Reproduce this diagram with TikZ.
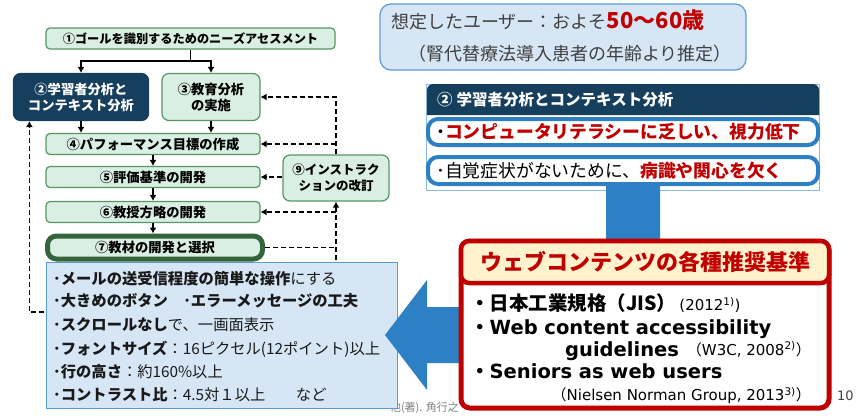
\documentclass[tikz,border=0pt]{standalone}
\usepackage{fontspec}
\setmainfont{Noto Sans CJK JP}
\newfontfamily\dv{DejaVu Sans}
\usetikzlibrary{arrows.meta}
\definecolor{gfill}{RGB}{218,239,228}
\definecolor{gline}{RGB}{84,150,100}
\definecolor{gdark}{RGB}{52,100,60}
\definecolor{navy}{RGB}{22,63,94}
\definecolor{lbfill}{RGB}{214,230,245}
\definecolor{lbline}{RGB}{91,155,213}
\definecolor{abl}{RGB}{46,128,196}
\definecolor{dred}{RGB}{192,0,0}
\definecolor{cream}{RGB}{255,242,204}
\definecolor{gtext}{RGB}{64,64,64}
\definecolor{ftext}{RGB}{128,128,128}
\newcommand\fs[2]{\fontsize{#1}{#2}\selectfont}
\tikzset{
  gbox/.style={draw=gline, fill=gfill, line width=1.2, rounded corners=4, inner sep=0, align=center, font=\bfseries\fs{13.3}{16}},
  arr/.style={line width=1.6, -{Latex[length=6,width=7]}},
  dsh/.style={line width=1.5, dash pattern=on 5 off 3},
  dsharr/.style={dsh, -{Latex[length=6,width=7]}},
  txt/.style={inner sep=0, anchor=base west},
  txte/.style={inner sep=0, anchor=base east},
}
\begin{document}
\begin{tikzpicture}[x=1pt,y=-1pt]
\useasboundingbox (0,0) rectangle (867,415);
% ---------- flowchart ----------
\node[gbox, minimum width=289, minimum height=21, font=\bfseries\fs{12.2}{14}] (n1) at (190.5,38.5) {①ゴールを識別するためのニーズアセスメント};
\node[gbox, fill=navy, draw=navy, text=white, minimum width=135, minimum height=47, rounded corners=7] (n2) at (81,97) {②学習者分析と\\コンテキスト分析};
\node[gbox, minimum width=98, minimum height=47, rounded corners=7] (n3) at (211,97) {③教育分析\\の実施};
\node[gbox, minimum width=214, minimum height=21] (n4) at (153,144) {④パフォーマンス目標の作成};
\node[gbox, minimum width=214, minimum height=21] (n5) at (153,177) {⑤評価基準の開発};
\node[gbox, minimum width=214, minimum height=21] (n6) at (153,212) {⑥教授方略の開発};
\node[gbox, draw=gdark, line width=5, rounded corners=9, minimum width=215, minimum height=23] (n7) at (155,247.5) {⑦教材の開発と選択};
\node[gbox, minimum width=106, minimum height=46, rounded corners=7, font=\bfseries\fs{12.5}{16.5}] (n9) at (336,178) {⑨インストラク\\ションの改訂};

\coordinate (br) at (190.5,61);
\draw[line width=1.6] (n1.south) -- (br);
\draw[arr] (br) -| (n2.north);
\draw[arr] (br) -| (n3.north);
\draw[arr] (n2.south) -- (n2.south |- n4.north);
\draw[arr] (n3.south) -- (n3.south |- n4.north);
\draw[arr] (n4.south) -- (n5.north);
\draw[arr] (n5.south) -- (n6.north);
\draw[arr] (n6.south) -- (n6.south |- n7.north);

\draw[dsharr] (n9.north) |- (n3.east);
\draw[dsharr] (n9.north |- n4.east) -- (n4.east);
\draw[dsharr] (n9.west |- n5.east) -- (n5.east);
\coordinate (rbot) at (336,300);
\draw[dsharr] (rbot) -- (n9.south);
\draw[dsharr] (n9.south |- n6.east) -- (n6.east);
\draw[dsh] (n7.east) -- (n9.south |- n7.east);
\coordinate (lbot) at (60,312);
\draw[dsharr] (lbot) -| ([xshift=16.5]n2.south west);

% footnote fragment
\node[txte, text=ftext, font=\fs{11}{12}] (fn) at (459,411) {他(著). 角行之};

% ---------- blue text box ----------
\node[draw=lbline, fill=lbfill, line width=1, minimum width=351, minimum height=146, inner sep=0] (bb) at (221.5,335.5) {};
\begin{scope}[every node/.append style={txt, font=\fs{15.3}{18}, text=black!90}]
\node (l1) at (53,284.6) {{\bfseries ･メールの送受信程度の簡単な操作}にする};
\node (l2) at (53,306.6) {\bfseries ･大きめのボタン　･エラーメッセージの工夫};
\node (l3) at (53,330.6) {{\bfseries ･スクロールなし}で、一画面表示};
\node (l4) at (53,354) {{\bfseries ･フォントサイズ}：16ピクセル(12ポイント)以上};
\node (l5) at (53,377) {{\bfseries ･行の高さ}：約160\%以上};
\node (l6) at (53,400.6) {{\bfseries ･コントラスト比}：4.5対１以上　　など};
\end{scope}

% ---------- top right box ----------
\node[draw=lbline, fill=lbfill, line width=1.2, rounded corners=11, minimum width=366, minimum height=66, inner sep=0] (tb) at (563,37) {};
\node[txt, text=gtext, font=\fs{18}{20}] (t1) at (391,28) {想定したユーザー：およそ{\bfseries\color{dred}\fs{22}{24}50〜60歳}};
\node[txt, text=gtext, font=\fs{18}{20}] (t2) at (408,60) {（腎代替療法導入患者の年齢より推定）};

% ---------- learner analysis panel ----------
\draw[lbline!70, line width=0.8] (426.5,84) rectangle (819.5,190);
\fill[abl] (606,180) -- (660,180) -- (660,363) -- (427,363) -- (427,390) -- (385,335) -- (427,280) -- (427,307) -- (606,307) -- cycle;
\fill[navy] (427,115) [rounded corners=6] -- (427,84) -- (819,84) [sharp corners] -- (819,115) -- cycle;
\node[txt, text=white, font=\bfseries\fs{15.5}{18}] (hd) at (437,105) {②\hspace{4pt}学習者分析とコンテキスト分析};
\node[draw=abl, fill=white, line width=4, rounded corners=10, minimum width=390, minimum height=26, inner sep=0] (p1) at (623,132) {};
\node[txt, font=\bfseries\fs{17.8}{20}] (p1t) at (436,138.5) {･\textcolor{dred}{コンピュータリテラシーに乏しい、視力低下}};
\node[draw=abl, fill=white, line width=4, rounded corners=10, minimum width=390, minimum height=27, inner sep=0] (p2) at (623,170.5) {};
\node[txt, font=\fs{17.8}{20}] (p2t) at (436,177) {･自覚症状がないために、{\bfseries\color{dred}病識や関心を欠く}};

% ---------- red box ----------
\node[draw=dred, fill=white, line width=5, rounded corners=9, minimum width=368, minimum height=167, inner sep=0] (rb) at (645,324.5) {};
\node[draw=dred, fill=cream, line width=4.5, rounded corners=8, minimum width=368, minimum height=42, inner sep=0, text=dred, font=\bfseries\fs{22}{24}] (rh) at (645,262) {ウェブコンテンツの各種推奨基準};
\node[txt, font=\bfseries\fs{19.5}{22}] (r1) at (470,310.5) {・日本工業規格（JIS）\hspace{3pt}{\mdseries\dv\fs{15}{18}(2012\textsuperscript{1)})}};
\node[txt, font=\bfseries\fs{19.5}{22}] (r2) at (470,334) {・{\dv Web content accessibility}};
\node[txt, font=\bfseries\fs{19.5}{22}] (r3) at (565,356) {\dv guidelines};
\node[txte, font=\fs{15}{18}] (r3b) at (811,355) {（{\dv W3C, 2008\textsuperscript{2)}}）};
\node[txt, font=\bfseries\fs{19.5}{22}] (r4) at (470,378.5) {・{\dv Seniors as web users}};
\node[txte, font=\fs{15}{18}] (r5) at (811,400.5) {（{\dv Nielsen Norman Group, 2013\textsuperscript{3)}}）};
\node[txt, text=gtext, font=\dv\fs{13}{15}] (pg) at (837,400) {10};
\end{tikzpicture}
\end{document}
